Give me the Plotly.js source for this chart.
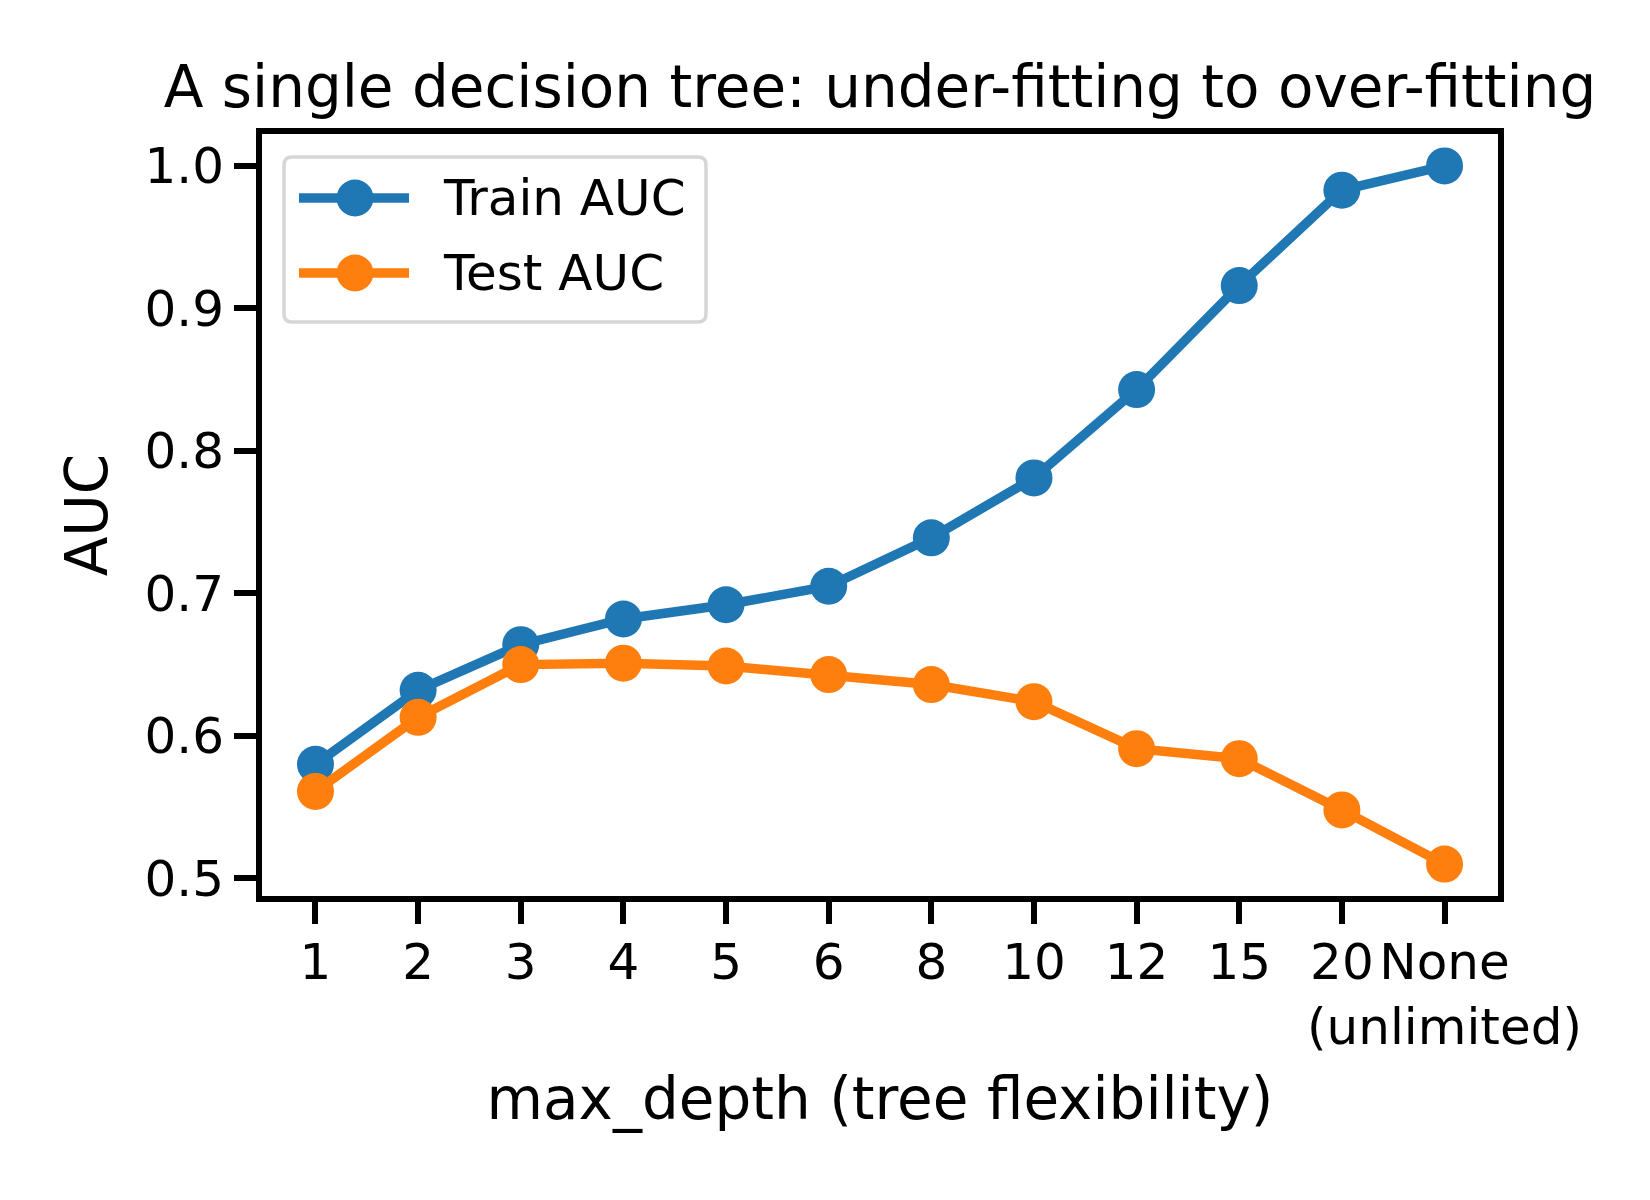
<!DOCTYPE html>
<html>
<head>
<meta charset="utf-8">
<script src="https://cdn.plot.ly/plotly-3.0.1.min.js"></script>
<style>
  html, body { margin: 0; padding: 0; background: #ffffff; }
  #chart { width: 1650px; height: 1200px; }
</style>
</head>
<body>
<div id="chart"></div>
<script>
// max_depth settings evaluated (last one = no depth limit)
const depthLabels = ['1', '2', '3', '4', '5', '6', '8', '10', '12', '15', '20', 'None<br>(unlimited)'];
const trainAUC = [0.580, 0.632, 0.664, 0.682, 0.692, 0.705, 0.739, 0.781, 0.843, 0.916, 0.983, 1.000];
const testAUC  = [0.561, 0.613, 0.650, 0.651, 0.649, 0.643, 0.636, 0.624, 0.591, 0.584, 0.548, 0.510];
const seriesNames = ['Train AUC', 'Test AUC'];
const seriesColors = ['#1f77b4', '#ff7f0e'];
const yTicks = [0.5, 0.6, 0.7, 0.8, 0.9, 1.0];

const FONT = 'DejaVu Sans, Liberation Sans, sans-serif';
const W = 1650, H = 1200;
const SPINE = 6;
// plot area sits inside the frame; plotly draws axis lines just outside it
const margin = { l: 262, r: 152, t: 134, b: 304 };
const plotW = W - margin.l - margin.r;
const plotH = H - margin.t - margin.b;

// pixel -> paper helpers for the hand-drawn legend box
const px = x => (x - margin.l) / plotW;
const py = y => 1 - (y - margin.t) / plotH;

function makeTrace(values, i) {
  return {
    type: 'scatter',
    mode: 'lines+markers',
    x: depthLabels,
    y: values,
    name: seriesNames[i],
    line: { color: seriesColors[i], width: 9.5 },
    marker: { color: seriesColors[i], size: 37 },
    showlegend: false,
    cliponaxis: false
  };
}

const traces = [makeTrace(trainAUC, 0), makeTrace(testAUC, 1)];

// legend: rounded frame, line+marker samples and labels
const shapes = [];
const annotations = [];
const box = { x0: 284, y0: 157, x1: 706, y1: 322, r: 8 };
{
  const rx = box.r / plotW, ry = box.r / plotH;
  const X0 = px(box.x0), X1 = px(box.x1), Y0 = py(box.y0), Y1 = py(box.y1);
  const path = `M ${X0 + rx},${Y0} L ${X1 - rx},${Y0} Q ${X1},${Y0} ${X1},${Y0 - ry} ` +
               `L ${X1},${Y1 + ry} Q ${X1},${Y1} ${X1 - rx},${Y1} ` +
               `L ${X0 + rx},${Y1} Q ${X0},${Y1} ${X0},${Y1 + ry} ` +
               `L ${X0},${Y0 - ry} Q ${X0},${Y0} ${X0 + rx},${Y0} Z`;
  shapes.push({ type: 'path', xref: 'paper', yref: 'paper', path: path,
                fillcolor: 'rgba(255,255,255,0.8)', line: { color: '#d6d6d6', width: 3.5 }, layer: 'above' });
}
const rowY = [198, 273];
seriesNames.forEach((name, i) => {
  const y = rowY[i];
  shapes.push({ type: 'line', xref: 'paper', yref: 'paper',
                x0: px(299), x1: px(409), y0: py(y), y1: py(y),
                line: { color: seriesColors[i], width: 9.5 }, layer: 'above' });
  const rr = 18.5;
  shapes.push({ type: 'circle', xref: 'paper', yref: 'paper',
                x0: px(355 - rr), x1: px(355 + rr), y0: py(y + rr), y1: py(y - rr),
                fillcolor: seriesColors[i], line: { width: 0 }, layer: 'above' });
  annotations.push({ xref: 'paper', yref: 'paper', x: px(441), y: py(y),
                     xanchor: 'left', yanchor: 'middle', showarrow: false,
                     text: name, font: { family: FONT, size: 50, color: '#000' } });
});

const layout = {
  width: W, height: H,
  margin: margin,
  paper_bgcolor: '#ffffff',
  plot_bgcolor: '#ffffff',
  font: { family: FONT, color: '#000000', size: 50 },
  title: {
    text: 'A single decision tree: under-fitting to over-fitting',
    font: { family: FONT, size: 58, color: '#000' },
    x: 0.5, xref: 'paper', xanchor: 'center',
    y: 1 - 87 / H, yanchor: 'middle'
  },
  xaxis: {
    type: 'category',
    range: [-0.521, 11.521],
    tickangle: 0,
    showgrid: false, zeroline: false,
    showline: true, linecolor: '#000', linewidth: SPINE, mirror: true,
    ticks: 'outside', ticklen: 22, tickwidth: 6, tickcolor: '#000',
    tickfont: { family: FONT, size: 50, color: '#000' },
    ticklabelstandoff: -5,
    title: { text: 'max_depth (tree flexibility)', font: { family: FONT, size: 58, color: '#000' }, standoff: 25 },
    automargin: false
  },
  yaxis: {
    range: [0.4876, 1.0224],
    tickvals: yTicks,
    ticktext: yTicks.map(v => v.toFixed(1)),
    showgrid: false, zeroline: false,
    showline: true, linecolor: '#000', linewidth: SPINE, mirror: true,
    ticks: 'outside', ticklen: 22, tickwidth: 6, tickcolor: '#000',
    tickfont: { family: FONT, size: 50, color: '#000' },
    title: { text: 'AUC', font: { family: FONT, size: 58, color: '#000' }, standoff: 20 },
    automargin: false
  },
  shapes: shapes,
  annotations: annotations,
  showlegend: false
};

Plotly.newPlot('chart', traces, layout, { staticPlot: true, displayModeBar: false });
</script>
</body>
</html>
